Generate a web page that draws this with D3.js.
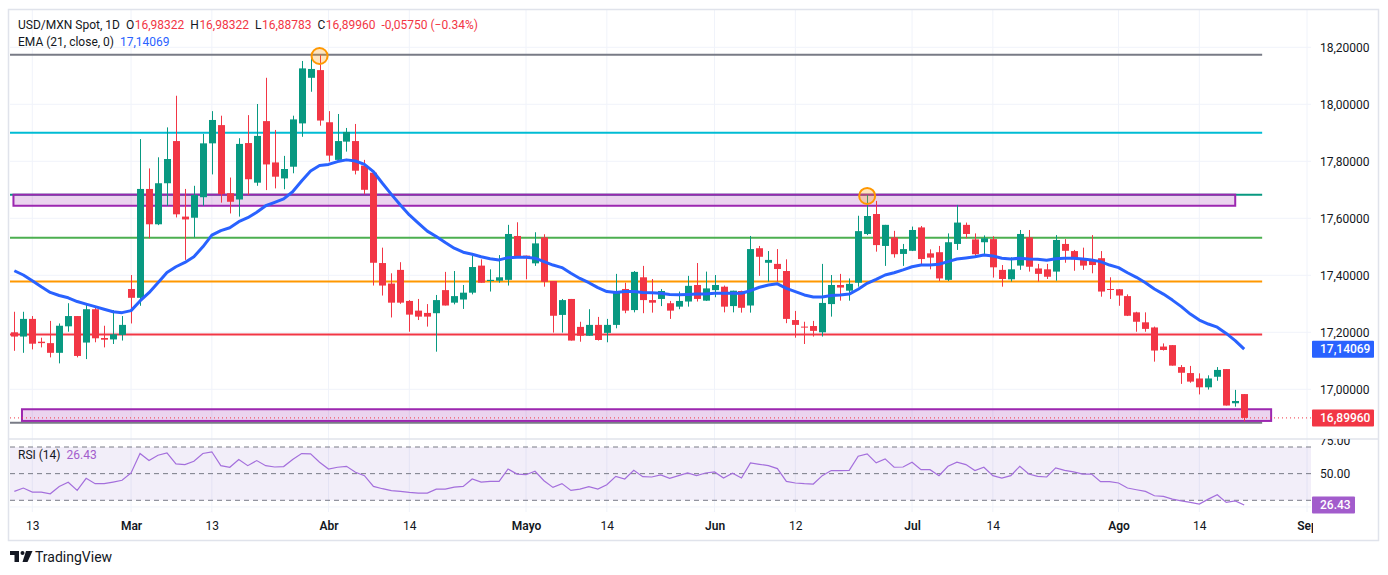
<!DOCTYPE html>
<html>
<head>
<meta charset="utf-8">
<script src="https://cdn.jsdelivr.net/npm/d3@7"></script>
<style>
  body { margin: 0; background: #ffffff; }
  svg { display: block; font-family: Roboto, "Liberation Sans", sans-serif; }
</style>
</head>
<body>
<svg id="chart"></svg>
<script>
// ---- data (bar index 0 .. 137, daily) ----
let opens = [17.200,17.185,17.247,17.167,17.162,17.128,17.221,17.257,17.164,17.281,17.180,17.175,17.191,17.352,17.321,17.703,17.579,17.723,17.871,17.606,
  17.602,17.674,17.863,17.927,17.688,17.666,17.864,17.725,17.941,17.796,17.740,17.781,17.933,18.093,18.120,17.937,17.805,17.869,17.871,17.785,
  17.760,17.443,17.371,17.419,17.310,17.276,17.268,17.267,17.348,17.304,17.315,17.339,17.434,17.380,17.381,17.384,17.538,17.469,17.442,17.533,
  17.380,17.261,17.317,17.219,17.188,17.226,17.198,17.226,17.352,17.278,17.393,17.313,17.317,17.302,17.290,17.308,17.366,17.311,17.348,17.360,
  17.292,17.345,17.294,17.495,17.444,17.440,17.415,17.243,17.220,17.222,17.200,17.299,17.366,17.346,17.374,17.545,17.615,17.503,17.533,17.475,
  17.486,17.568,17.477,17.481,17.384,17.510,17.577,17.526,17.516,17.527,17.419,17.386,17.434,17.533,17.424,17.421,17.413,17.510,17.485,17.457,
  17.451,17.460,17.352,17.351,17.327,17.270,17.235,17.217,17.150,17.155,17.078,17.057,17.038,17.007,17.044,17.071,16.951,16.98322]
let highs = [17.272,17.272,17.257,17.181,17.240,17.231,17.302,17.257,17.302,17.290,17.223,17.278,17.257,17.401,17.878,17.775,17.814,17.919,18.030,17.703,
  17.714,17.896,17.976,17.960,17.743,17.881,17.962,18.001,18.093,17.910,17.819,17.960,18.152,18.175,18.173,17.976,17.966,17.917,17.931,17.805,
  17.767,17.497,17.407,17.446,17.313,17.317,17.299,17.331,17.412,17.415,17.366,17.468,17.456,17.421,17.471,17.577,17.586,17.469,17.551,17.544,
  17.380,17.317,17.317,17.237,17.281,17.254,17.247,17.405,17.374,17.415,17.433,17.387,17.352,17.310,17.343,17.398,17.443,17.413,17.401,17.364,
  17.346,17.346,17.538,17.503,17.485,17.492,17.456,17.275,17.237,17.240,17.440,17.401,17.405,17.389,17.609,17.682,17.661,17.577,17.556,17.510,
  17.571,17.573,17.491,17.503,17.547,17.647,17.585,17.547,17.540,17.537,17.436,17.463,17.559,17.559,17.440,17.440,17.541,17.527,17.489,17.497,
  17.541,17.485,17.393,17.352,17.333,17.272,17.270,17.220,17.161,17.155,17.085,17.082,17.056,17.049,17.078,17.071,16.998,16.98322]
let lows = [17.135,17.128,17.140,17.147,17.112,17.091,17.202,17.112,17.106,17.165,17.147,17.159,17.171,17.231,17.293,17.530,17.576,17.643,17.603,17.454,
  17.533,17.644,17.754,17.655,17.617,17.606,17.682,17.714,17.699,17.705,17.702,17.758,17.886,18.044,17.925,17.799,17.805,17.834,17.754,17.685,
  17.364,17.329,17.252,17.300,17.202,17.243,17.220,17.132,17.294,17.298,17.282,17.333,17.374,17.343,17.374,17.364,17.462,17.386,17.433,17.360,
  17.199,17.199,17.171,17.167,17.188,17.171,17.165,17.214,17.267,17.270,17.267,17.269,17.292,17.247,17.281,17.290,17.308,17.310,17.323,17.270,
  17.270,17.269,17.269,17.398,17.378,17.378,17.232,17.181,17.159,17.185,17.185,17.255,17.311,17.311,17.360,17.541,17.483,17.433,17.462,17.433,
  17.485,17.434,17.421,17.380,17.380,17.489,17.530,17.469,17.475,17.392,17.360,17.378,17.419,17.413,17.378,17.387,17.381,17.444,17.416,17.419,
  17.407,17.325,17.317,17.293,17.257,17.202,17.202,17.097,17.136,17.083,17.019,17.023,16.982,16.999,17.030,16.943,16.939,16.88783]
let closes = [17.185,17.247,17.160,17.162,17.128,17.223,17.257,17.117,17.281,17.179,17.174,17.193,17.226,17.321,17.703,17.579,17.723,17.808,17.614,17.596,
  17.682,17.863,17.945,17.685,17.658,17.861,17.737,17.889,17.789,17.746,17.773,17.947,18.126,18.124,17.943,17.820,17.871,17.903,17.767,17.700,
  17.444,17.364,17.304,17.304,17.262,17.255,17.255,17.313,17.294,17.327,17.339,17.429,17.374,17.384,17.393,17.545,17.465,17.460,17.512,17.377,
  17.258,17.313,17.171,17.188,17.226,17.173,17.226,17.343,17.276,17.412,17.313,17.304,17.345,17.276,17.310,17.363,17.317,17.354,17.366,17.290,
  17.346,17.286,17.492,17.465,17.454,17.422,17.247,17.226,17.218,17.205,17.303,17.366,17.357,17.370,17.555,17.608,17.506,17.577,17.474,17.492,
  17.559,17.457,17.462,17.389,17.516,17.585,17.545,17.474,17.530,17.428,17.387,17.421,17.545,17.430,17.405,17.395,17.524,17.486,17.456,17.434,
  17.436,17.343,17.350,17.329,17.258,17.237,17.212,17.136,17.138,17.083,17.058,17.027,17.007,17.038,17.068,16.943,16.959,16.89960]
let ema21 = [17.416,17.401,17.381,17.360,17.340,17.329,17.321,17.308,17.299,17.290,17.281,17.272,17.269,17.276,17.310,17.339,17.374,17.410,17.430,17.445,
  17.465,17.500,17.541,17.557,17.567,17.588,17.602,17.621,17.644,17.656,17.668,17.693,17.731,17.766,17.785,17.789,17.799,17.805,17.801,17.789,
  17.764,17.723,17.684,17.647,17.612,17.583,17.555,17.536,17.515,17.495,17.481,17.474,17.465,17.458,17.454,17.462,17.463,17.463,17.460,17.448,
  17.436,17.427,17.407,17.389,17.374,17.357,17.343,17.340,17.343,17.343,17.340,17.339,17.337,17.333,17.332,17.333,17.334,17.334,17.337,17.337,
  17.337,17.337,17.346,17.358,17.366,17.370,17.354,17.343,17.331,17.324,17.324,17.329,17.331,17.334,17.351,17.372,17.386,17.401,17.409,17.419,
  17.430,17.436,17.436,17.439,17.448,17.457,17.461,17.465,17.471,17.468,17.460,17.457,17.460,17.457,17.456,17.453,17.458,17.460,17.460,17.457,
  17.454,17.448,17.436,17.427,17.409,17.393,17.374,17.352,17.334,17.313,17.290,17.264,17.243,17.229,17.218,17.196,17.171,17.14069]
let rsi14 = [36.7,39.2,36.2,36.2,34.9,40.4,43.5,37.4,46.5,42.5,42.5,43.7,45.0,50.5,65.1,59.8,63.8,65.6,57.3,56.8,
  59.3,65.1,66.4,56.0,54.8,60.6,56.0,59.8,56.0,55.0,55.3,60.6,65.1,64.8,58.6,53.5,54.8,55.5,51.0,48.5,
  40.4,38.7,37.2,36.7,35.9,35.4,35.4,38.4,38.4,39.9,40.4,46.0,43.7,44.2,44.2,53.5,49.7,49.2,51.8,44.7,
  39.7,42.5,37.4,38.4,40.2,38.4,41.7,48.0,46.0,52.5,47.7,47.5,49.0,46.5,48.5,50.5,48.6,50.5,51.3,46.7,
  50.3,46.7,58.1,57.0,56.0,53.8,44.2,43.0,42.5,42.2,48.5,52.3,52.3,52.5,63.1,64.8,58.1,61.1,54.8,55.0,
  58.6,53.0,53.0,48.5,55.5,58.6,56.8,52.3,54.8,48.5,46.7,48.5,55.5,49.7,48.0,47.5,54.3,52.5,51.3,49.7,
  49.7,44.0,44.0,43.0,39.2,37.9,36.7,33.4,32.9,30.9,29.6,28.4,27.2,30.9,34.2,28.4,29.6,26.43]

let timeTickIdx = [2, 13, 22, 35, 44, 57, 66, 78, 87, 100, 109, 123, 132, 144]
let timeTickLabels = ['13', 'Mar', '13', 'Abr', '14', 'Mayo', '14', 'Jun', '12', 'Jul', '14', 'Ago', '14', 'Sep']
let monthLabels = ['Mar', 'Abr', 'Mayo', 'Jun', 'Jul', 'Ago', 'Sep']
let priceTicks = [17.0, 17.2, 17.4, 17.6, 17.8, 18.0, 18.2]
let rsiTicks = [75, 50]
let rsiBands = [70, 50, 30]

// drawn levels (price) ending at bar 139
let levelPrices = [18.174, 17.900, 17.683, 17.532, 17.378, 17.192, 16.883]
let levelEndIdx = 139
// zones: top price, bottom price, start bar, end bar
let zoneTops = [17.683, 16.930]
let zoneBottoms = [17.644, 16.889]
let zoneStart = [-0.1, 0.85]
let zoneEnd = [136, 140]
// circled highs
let markedBars = [34, 95]

// ---- layout ----
let width = 1388
let height = 575
let left = 10
let right = 1311
let priceTop = 10
let priceBottom = 439
let rsiBottom = 512

let levelColors = ['#787b86', '#00bcd4', '#089981', '#4caf50', '#ff9800', '#f23645', '#787b86']
let up = '#089981'
let down = '#f23645'
let gridColor = '#f0f3fa'
let textColor = '#131722'

let svg = d3.select('#chart').attr('width', width).attr('height', height)

let xScale = d3.scaleLinear().domain([0, 137]).range([14.35, 14.35 + 137 * 8.977])
let yScale = d3.scaleLinear().domain([17.0, 18.2]).range([389.3, 47.3])
let rsiScale = d3.scaleLinear().domain([30, 70]).range([500.3, 447])

let fmtPrice = d => d3.format('.5f')(d).replace('.', ',')

let defs = svg.append('defs')
defs.append('clipPath').attr('id', 'clipPrice')
    .append('rect').attr('x', left).attr('y', priceTop).attr('width', right - left).attr('height', priceBottom - priceTop)
defs.append('clipPath').attr('id', 'clipRsi')
    .append('rect').attr('x', left).attr('y', priceBottom).attr('width', right - left).attr('height', rsiBottom - priceBottom)
defs.append('clipPath').attr('id', 'clipRsiAxis')
    .append('rect').attr('x', right).attr('y', priceBottom).attr('width', 70).attr('height', rsiBottom - priceBottom)
defs.append('clipPath').attr('id', 'clipTime')
    .append('rect').attr('x', left).attr('y', rsiBottom).attr('width', right - left + 2).attr('height', 30)

// ---- grid ----
let grid = svg.append('g')
grid.selectAll('.vgrid').data(timeTickIdx).enter().append('line')
    .attr('x1', d => xScale(d)).attr('x2', d => xScale(d))
    .attr('y1', priceTop).attr('y2', rsiBottom)
    .attr('stroke', gridColor).attr('stroke-width', 1)
grid.selectAll('.hgrid').data(priceTicks).enter().append('line')
    .attr('x1', left).attr('x2', right)
    .attr('y1', d => yScale(d)).attr('y2', d => yScale(d))
    .attr('stroke', gridColor).attr('stroke-width', 1)
grid.append('line')
    .attr('x1', left).attr('x2', right)
    .attr('y1', rsiScale(25)).attr('y2', rsiScale(25))
    .attr('stroke', gridColor)

// ---- price pane ----
let pane = svg.append('g').attr('clip-path', 'url(#clipPrice)')

pane.selectAll('.level').data(levelPrices).enter().append('line')
    .attr('x1', left).attr('x2', xScale(levelEndIdx))
    .attr('y1', d => yScale(d)).attr('y2', d => yScale(d))
    .attr('stroke', (d, i) => levelColors[i]).attr('stroke-width', 2)

pane.selectAll('.zone').data(zoneTops).enter().append('rect')
    .attr('x', (d, i) => xScale(zoneStart[i]))
    .attr('y', d => yScale(d))
    .attr('width', (d, i) => xScale(zoneEnd[i]) - xScale(zoneStart[i]))
    .attr('height', (d, i) => yScale(zoneBottoms[i]) - yScale(d))
    .attr('fill', 'rgba(156,39,176,0.2)')
    .attr('stroke', '#9c27b0').attr('stroke-width', 2)

// last price line
pane.append('line')
    .attr('x1', left).attr('x2', right)
    .attr('y1', yScale(closes[closes.length - 1])).attr('y2', yScale(closes[closes.length - 1]))
    .attr('stroke', down).attr('stroke-width', 1).attr('stroke-dasharray', '1,3')

let candles = pane.selectAll('.candle').data(closes).enter().append('g')
candles.append('line')
    .attr('x1', (d, i) => Math.round(xScale(i)) + 0.5)
    .attr('x2', (d, i) => Math.round(xScale(i)) + 0.5)
    .attr('y1', (d, i) => yScale(highs[i]))
    .attr('y2', (d, i) => yScale(lows[i]))
    .attr('stroke', (d, i) => d >= opens[i] ? up : down)
    .attr('stroke-width', 1)
candles.append('rect')
    .attr('x', (d, i) => Math.round(xScale(i)) - 3)
    .attr('y', (d, i) => yScale(Math.max(d, opens[i])))
    .attr('width', 7)
    .attr('height', (d, i) => Math.max(1, Math.abs(yScale(d) - yScale(opens[i]))))
    .attr('fill', (d, i) => d >= opens[i] ? up : down)

let emaLine = d3.line().x((d, i) => xScale(i)).y(d => yScale(d))
pane.append('path').datum(ema21)
    .attr('d', emaLine)
    .attr('fill', 'none').attr('stroke', '#2962ff').attr('stroke-width', 3)
    .attr('stroke-linejoin', 'round')

pane.selectAll('.mark').data(markedBars).enter().append('circle')
    .attr('cx', d => xScale(d)).attr('cy', d => yScale(highs[d]) + 1)
    .attr('r', 8)
    .attr('fill', 'rgba(255,152,0,0.25)').attr('stroke', '#ff9800').attr('stroke-width', 2)

// ---- RSI pane ----
let rsiPane = svg.append('g').attr('clip-path', 'url(#clipRsi)')
rsiPane.append('rect')
    .attr('x', left).attr('y', rsiScale(70))
    .attr('width', right - left).attr('height', rsiScale(30) - rsiScale(70))
    .attr('fill', 'rgba(126,87,194,0.1)')
rsiPane.selectAll('.band').data(rsiBands).enter().append('line')
    .attr('x1', left).attr('x2', right)
    .attr('y1', d => rsiScale(d)).attr('y2', d => rsiScale(d))
    .attr('stroke', '#787b86').attr('stroke-width', 1).attr('stroke-dasharray', '5,4')
let rsiLine = d3.line().x((d, i) => xScale(i)).y(d => rsiScale(d))
rsiPane.append('path').datum(rsi14)
    .attr('d', rsiLine)
    .attr('fill', 'none').attr('stroke', '#a46fdc').attr('stroke-width', 1.2)

// ---- frame & separators ----
svg.append('rect')
    .attr('x', 8.5).attr('y', 9.5).attr('width', 1370).attr('height', 531)
    .attr('fill', 'none').attr('stroke', '#e0e3eb').attr('stroke-width', 1.5)
svg.append('line')
    .attr('x1', 8).attr('x2', 1379).attr('y1', priceBottom).attr('y2', priceBottom)
    .attr('stroke', '#e0e3eb').attr('stroke-width', 1.5)

// ---- price axis ----
let yAxis = d3.axisRight(yScale).tickValues(priceTicks).tickFormat(fmtPrice).tickSize(0).tickPadding(9)
let yAxisG = svg.append('g').attr('transform', 'translate(' + right + ',0)').call(yAxis)
yAxisG.select('.domain').remove()
yAxisG.selectAll('text').attr('fill', textColor).style('font-size', '12px').style('font-family', 'Roboto, sans-serif')

let rsiAxis = d3.axisRight(rsiScale).tickValues(rsiTicks).tickFormat(d3.format('.2f')).tickSize(0).tickPadding(9)
let rsiAxisG = svg.append('g').attr('clip-path', 'url(#clipRsiAxis)')
    .append('g').attr('transform', 'translate(' + right + ',0)').call(rsiAxis)
rsiAxisG.select('.domain').remove()
rsiAxisG.selectAll('text').attr('fill', textColor).style('font-size', '12px').style('font-family', 'Roboto, sans-serif')

// value labels on the axis
let axisLabels = [
  { v: yScale(ema21[ema21.length - 1]), t: fmtPrice(ema21[ema21.length - 1]), c: '#2962ff', w: 62 },
  { v: yScale(closes[closes.length - 1]), t: fmtPrice(closes[closes.length - 1]), c: down, w: 62 },
  { v: rsiScale(rsi14[rsi14.length - 1]), t: d3.format('.2f')(rsi14[rsi14.length - 1]), c: '#a25ccc', w: 43 }
]
let lab = svg.selectAll('.axlab').data(axisLabels).enter().append('g')
lab.append('rect')
    .attr('x', right + 1).attr('y', d => d.v - 8.5)
    .attr('width', d => d.w).attr('height', 17).attr('rx', 1)
    .attr('fill', d => d.c)
lab.append('text')
    .attr('x', right + 9).attr('y', d => d.v)
    .attr('dy', '0.35em')
    .attr('fill', '#ffffff').style('font-size', '12px').style('font-weight', 500)
    .text(d => d.t)

// ---- time axis ----
let xAxis = d3.axisBottom(xScale).tickValues(timeTickIdx)
    .tickFormat((d, i) => timeTickLabels[i]).tickSize(0).tickPadding(9)
let xAxisG = svg.append('g').attr('clip-path', 'url(#clipTime)')
    .append('g').attr('transform', 'translate(0,' + rsiBottom + ')').call(xAxis)
xAxisG.select('.domain').remove()
xAxisG.selectAll('text')
    .attr('fill', textColor).style('font-size', '12px').style('font-family', 'Roboto, sans-serif')
    .style('font-weight', d => monthLabels.includes(timeTickLabels[timeTickIdx.indexOf(d)]) ? 600 : 400)

// ---- legends (laid out left to right) ----
let legend = svg.append('g').style('font-size', '12px')
let placeRow = (pieces, y) => {
    let cx = 18
    pieces.forEach(p => {
        let t = legend.append('text').attr('x', cx).attr('y', y).attr('fill', p.c).text(p.t)
        cx += t.node().getComputedTextLength() + p.gap
    })
}
placeRow([
  { t: 'USD/MXN Spot, 1D', c: textColor, gap: 6 },
  { t: 'O', c: textColor, gap: 0.5 }, { t: '16,98322', c: down, gap: 6 },
  { t: 'H', c: textColor, gap: 0.5 }, { t: '16,98322', c: down, gap: 6 },
  { t: 'L', c: textColor, gap: 0.5 }, { t: '16,88783', c: down, gap: 6 },
  { t: 'C', c: textColor, gap: 0.5 }, { t: '16,89960', c: down, gap: 6 },
  { t: '-0,05750 (\u22120.34%)', c: down, gap: 0 }
], 29)
placeRow([
  { t: 'EMA (21, close, 0)', c: textColor, gap: 6 },
  { t: fmtPrice(ema21[ema21.length - 1]), c: '#2962ff', gap: 0 }
], 46)
placeRow([
  { t: 'RSI (14)', c: textColor, gap: 6 },
  { t: d3.format('.2f')(rsi14[rsi14.length - 1]), c: '#a25ccc', gap: 0 }
], 459)

// ---- TradingView mark ----
let logo = svg.append('g').attr('fill', textColor)
logo.append('path').attr('d', 'M10,551 h9 v11 h-4.5 v-7 h-4.5 z')
logo.append('circle').attr('cx', 22.5).attr('cy', 553).attr('r', 2)
logo.append('path').attr('d', 'M26,551 h6.5 l-5,11 h-5 z')
svg.append('text').attr('x', 35).attr('y', 561.5)
    .attr('fill', textColor).style('font-size', '14px').text('TradingView')
</script>
</body>
</html>
